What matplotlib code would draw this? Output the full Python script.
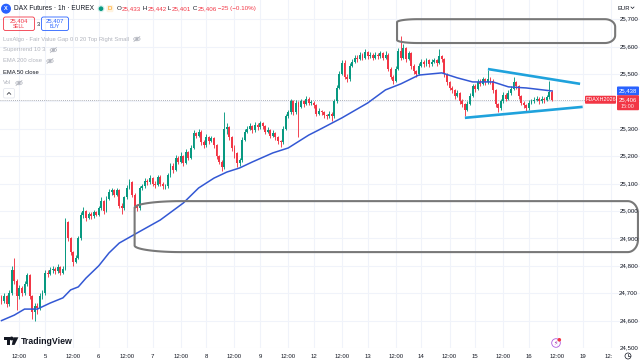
import numpy as np
import matplotlib.pyplot as plt
from matplotlib.patches import Rectangle, FancyBboxPatch, Circle, Ellipse, Polygon

plt.rcParams['font.family'] = ['Liberation Sans', 'DejaVu Sans']

# ---------------- data (1h bars) ----------------
first_open = 24685
closes = [
    24670, 24690, 24660, 24700, 24785, 24745, 24690, 24720, 24700, 24735,
    24765, 24690, 24630, 24655, 24645, 24690, 24700, 24775, 24770, 24785,
    24790, 24780, 24795, 24775, 24790, 24960, 24900, 24850, 24815, 24830,
    24900, 24985, 25000, 24975, 24990, 24980, 24995, 24985, 25010, 25035,
    25000, 25045, 25070, 25075, 25060, 25075, 25020, 25010, 25050, 25085,
    25105, 25060, 25020, 25010, 25085, 25090, 25110, 25105, 25120, 25100,
    25095, 25125, 25100, 25090, 25090, 25130, 25165, 25150, 25195, 25180,
    25200, 25175, 25215, 25195, 25230, 25285, 25275, 25290, 25250, 25240,
    25270, 25255, 25265, 25240, 25200, 25180, 25160, 25300, 25305, 25270,
    25230, 25210, 25175, 25185, 25260, 25290, 25300, 25310, 25295, 25315,
    25305, 25320, 25310, 25290, 25295, 25275, 25285, 25270, 25255, 25250,
    25300, 25345, 25360, 25400, 25360, 25395, 25380, 25400, 25390, 25410,
    25395, 25395, 25385, 25355, 25365, 25360, 25350, 25345, 25355, 25345,
    25400, 25450, 25500, 25540, 25490, 25480, 25530, 25545, 25560, 25555,
    25570, 25560, 25580, 25565, 25570, 25560, 25570, 25565, 25575, 25560,
    25570, 25520, 25490, 25475, 25520, 25585, 25560, 25595, 25555, 25575,
    25530, 25510, 25500, 25530, 25545, 25535, 25550, 25535, 25545, 25550,
    25540, 25565, 25555, 25500, 25470, 25450, 25440, 25420, 25430, 25400,
    25390, 25370, 25390, 25420, 25455, 25445, 25470, 25465, 25480, 25470,
    25480, 25475, 25440, 25390, 25375, 25400, 25425, 25410, 25430, 25445,
    25470, 25455, 25420, 25395, 25385, 25375, 25395, 25400, 25405, 25410,
    25400, 25410, 25405, 25415, 25433, 25406,
]
highs = [
    24695, 24700, 24695, 24710, 24800, 24830, 24750, 24730, 24725, 24745,
    24775, 24770, 24695, 24665, 24665, 24700, 24710, 24785, 24785, 24795,
    24800, 24795, 24805, 24800, 24800, 24975, 24965, 24905, 24855, 24840,
    24910, 24995, 25015, 25005, 24995, 24995, 25005, 25000, 25020, 25050,
    25040, 25055, 25080, 25085, 25080, 25085, 25080, 25030, 25055, 25095,
    25115, 25110, 25065, 25025, 25090, 25100, 25120, 25115, 25130, 25125,
    25110, 25130, 25130, 25105, 25100, 25140, 25175, 25175, 25205, 25200,
    25215, 25205, 25225, 25220, 25240, 25295, 25290, 25300, 25295, 25260,
    25280, 25275, 25275, 25270, 25245, 25205, 25185, 25360, 25320, 25310,
    25275, 25240, 25215, 25195, 25270, 25300, 25310, 25320, 25315, 25325,
    25320, 25330, 25325, 25315, 25305, 25300, 25295, 25290, 25275, 25260,
    25310, 25355, 25370, 25410, 25405, 25405, 25400, 25410, 25405, 25420,
    25415, 25405, 25400, 25390, 25375, 25370, 25365, 25355, 25365, 25360,
    25410, 25460, 25510, 25550, 25550, 25500, 25540, 25555, 25570, 25570,
    25580, 25575, 25590, 25585, 25580, 25575, 25580, 25575, 25585, 25580,
    25585, 25575, 25525, 25495, 25530, 25595, 25640, 25610, 25600, 25585,
    25580, 25535, 25515, 25540, 25555, 25550, 25560, 25555, 25555, 25560,
    25555, 25590, 25570, 25560, 25505, 25475, 25455, 25445, 25440, 25435,
    25410, 25395, 25400, 25430, 25465, 25465, 25480, 25480, 25490, 25485,
    25515, 25490, 25480, 25445, 25395, 25410, 25435, 25430, 25440, 25455,
    25490, 25475, 25460, 25425, 25400, 25390, 25405, 25410, 25415, 25420,
    25415, 25420, 25415, 25425, 25475, 25442,
]
lows = [
    24660, 24665, 24650, 24655, 24695, 24735, 24640, 24680, 24690, 24695,
    24725, 24680, 24605, 24600, 24625, 24640, 24680, 24695, 24760, 24765,
    24775, 24770, 24775, 24765, 24770, 24785, 24890, 24840, 24800, 24810,
    24825, 24895, 24975, 24965, 24970, 24970, 24975, 24980, 24980, 25005,
    24990, 24995, 25040, 25060, 25050, 25055, 25010, 24990, 25005, 25045,
    25080, 25050, 25010, 25000, 25005, 25075, 25085, 25095, 25100, 25090,
    25085, 25090, 25090, 25080, 25080, 25085, 25125, 25140, 25145, 25170,
    25175, 25165, 25170, 25185, 25190, 25225, 25265, 25270, 25240, 25230,
    25235, 25245, 25250, 25230, 25190, 25170, 25145, 25155, 25280, 25260,
    25220, 25195, 25160, 25165, 25180, 25255, 25285, 25295, 25285, 25290,
    25295, 25300, 25300, 25280, 25285, 25265, 25270, 25260, 25245, 25235,
    25245, 25295, 25340, 25355, 25350, 25355, 25270, 25375, 25380, 25385,
    25385, 25385, 25375, 25345, 25350, 25350, 25340, 25335, 25340, 25330,
    25340, 25395, 25445, 25495, 25480, 25470, 25475, 25525, 25540, 25545,
    25550, 25550, 25555, 25555, 25560, 25550, 25555, 25555, 25560, 25550,
    25555, 25510, 25480, 25465, 25470, 25515, 25550, 25555, 25545, 25550,
    25520, 25500, 25490, 25495, 25525, 25525, 25530, 25525, 25530, 25540,
    25530, 25535, 25545, 25490, 25460, 25440, 25430, 25410, 25415, 25390,
    25380, 25345, 25365, 25385, 25415, 25435, 25440, 25455, 25460, 25460,
    25465, 25465, 25430, 25380, 25360, 25370, 25395, 25400, 25405, 25425,
    25440, 25445, 25410, 25385, 25375, 25365, 25370, 25390, 25395, 25400,
    25390, 25395, 25395, 25400, 25410, 25401,
]
opens = [first_open] + closes[:-1]

# EMA 50 as traced on the picture (bar index, price)
ema50_idx = [0, 5, 9, 14, 19, 24, 27, 30, 33, 38, 42, 46, 53, 62, 71, 77, 83, 88,
             93, 98, 106, 112, 120, 124, 133, 143, 150, 156, 163, 172, 178, 184,
             192, 198, 205, 215]
ema50_val = [24600, 24620, 24642, 24642, 24664, 24683, 24712, 24723, 24755, 24800,
             24847, 24883, 24920, 24967, 25029, 25084, 25120, 25142, 25157, 25179,
             25212, 25230, 25277, 25296, 25340, 25394, 25442, 25464, 25496, 25504,
             25486, 25471, 25471, 25453, 25449, 25438]

day_labels = ['5', '6', '7', '8', '9', '12', '13', '14', '15', '16', '19']
day_bars = [17, 38, 59, 80, 101, 122, 143, 164, 185, 206, 227]
noon_bars = [7, 28, 49, 70, 91, 112, 133, 154, 175, 196, 217, 238]
price_levels = [24500, 24600, 24700, 24800, 24900, 25000, 25100,
                25200, 25300, 25400, 25500, 25600, 25700]

# drawings: zone = [bar_from, bar_to, price_low, price_high]
zone_top = [154.5, 239.7, 25613, 25700]
zone_bottom = [52, 248.6, 24850, 25036]
tl_upper_x, tl_upper_y = [190, 226], [25518, 25464]
tl_lower_x, tl_lower_y = [181, 227], [25340, 25380]

ohlc_last = [25433, 25442, 25401, 25406]
chg, chg_pct = -25, -0.10
sell_px, buy_px, spread = 25404, 25407, 3
ema_last = 25438
countdown = '15:00'
symbol = 'FDAXH2026'

GREEN, RED, BLUE = '#089981', '#F23645', '#2962FF'
TXT, FADE = '#131722', '#b2b5be'

fig = plt.figure(figsize=(6.4, 3.64), dpi=100)
ax = fig.add_axes([0, 16 / 364, 1, 348 / 364])
ax.set_xlim(-0.58, 249.4)
ax.set_ylim(24500, 25770)
ax.set_axis_off()

# grid
for b in day_bars + noon_bars:
    ax.axvline(b, color='#f0f3fa', lw=0.8, zorder=0)
for p in price_levels:
    ax.axhline(p, color='#f0f3fa', lw=0.8, zorder=0)

# candles
idx = np.arange(len(closes))
o, c, h, l = map(np.array, (opens, closes, highs, lows))
col = np.where(c >= o, GREEN, RED)
ax.vlines(idx, l, h, colors=col, lw=0.65, zorder=2)
ax.bar(idx, np.maximum(np.abs(c - o), 2.5), bottom=np.minimum(o, c),
       width=0.74, color=col, linewidth=0, zorder=3)

# EMA 50
ax.plot(ema50_idx, ema50_val, color='#3358d4', lw=1.1, zorder=4,
        solid_joinstyle='round')

# last price line
ax.axhline(closes[-1], color='#9598a1', lw=0.6, ls=(0, (1, 1.5)), zorder=1)


def zone(z, left_r, right_r):
    x0, x1, y0, y1 = z
    rxl, ryl = left_r
    rxr, ryr = right_r
    t = np.linspace(0, np.pi / 2, 25)
    pts = []
    pts += list(zip(x0 + rxl - rxl * np.cos(t), y1 - ryl + ryl * np.sin(t)))
    pts += list(zip(x1 - rxr + rxr * np.sin(t), y1 - ryr + ryr * np.cos(t)))
    pts += list(zip(x1 - rxr + rxr * np.cos(t), y0 + ryr - ryr * np.sin(t)))
    pts += list(zip(x0 + rxl - rxl * np.sin(t), y0 + ryl - ryl * np.cos(t)))
    ax.add_patch(Polygon(pts, closed=True, fill=False, edgecolor='#787878',
                         lw=1.5, zorder=5, clip_on=False))


zone(zone_bottom, (18, 24), (4, 45))
zone(zone_top, (8, 11), (4, 28))

ax.plot(tl_upper_x, tl_upper_y, color='#1fa2dc', lw=1.9, zorder=6,
        solid_capstyle='butt')
ax.plot(tl_lower_x, tl_lower_y, color='#1fa2dc', lw=1.9, zorder=6,
        solid_capstyle='butt')

# price scale labels (drawn inside the pane, right side); the tags hide 25,400
ytr = ax.get_yaxis_transform()
for p in price_levels:
    if abs(p - closes[-1]) < 30:
        continue
    ax.text(0.997, p, f'{p:,}', transform=ytr, ha='right', va='center',
            fontsize=4.4, color=TXT, zorder=7)

# time axis labels
xtr = ax.get_xaxis_transform()
for b, lab in zip(day_bars, day_labels):
    ax.text(b, -0.024, lab, transform=xtr, ha='center', va='center',
            fontsize=4.3, color=TXT, clip_on=False)
for b in noon_bars[:-1]:
    ax.text(b, -0.024, '12:00', transform=xtr, ha='center', va='center',
            fontsize=4.3, color=TXT, clip_on=False)
ax.text(noon_bars[-1] - 1, -0.024, '12:', transform=xtr, ha='center',
        va='center', fontsize=4.3, color=TXT, clip_on=False)

# ---------------- overlay in pixel coordinates ----------------
ui = fig.add_axes([0, 0, 1, 1], zorder=5)
ui.set_xlim(0, 640)
ui.set_ylim(364, 0)
ui.set_axis_off()
ui.patch.set_alpha(0)


def py(p):
    return 364 - ax.transData.transform((0, p))[1]


fig.canvas.draw()
rend = fig.canvas.get_renderer()


def pieces(x, y, parts, size):
    for s, colr in parts:
        t = ui.text(x, y, s, fontsize=size, color=colr, va='center', ha='left')
        x += t.get_window_extent(rend).width
    return x


def eye(x, y, colr=FADE):
    ui.add_patch(Ellipse((x, y), 6.5, 3.6, fill=False, lw=0.5, edgecolor=colr))
    ui.add_patch(Circle((x, y), 0.9, color=colr))
    ui.plot([x - 3, x + 3], [y + 2.5, y - 2.5], color=colr, lw=0.5)


# header
ui.add_patch(Circle((6, 8.7), 4.3, color=BLUE))
ui.text(6, 8.9, 'X', color='white', fontsize=4, ha='center', va='center',
        fontweight='bold')
ui.text(13.5, 8.7, 'DAX Futures · 1h · EUREX', fontsize=4.8, color=TXT,
        va='center')
ui.add_patch(Circle((101, 8.7), 2.8, color='#d7f0ec'))
ui.add_patch(Circle((101, 8.7), 1.6, color=GREEN))
ui.add_patch(FancyBboxPatch((106.5, 5.2), 7, 7, boxstyle='round,pad=0,rounding_size=1.5',
                            color='#fff3e0', lw=0))
ui.text(110, 8.9, 'D', fontsize=4.4, color='#ff9800', ha='center', va='center')
o_, h_, l_, c_ = ohlc_last
pieces(117, 8.7, [('O', TXT), (f'{o_:,}', RED), (' H', TXT), (f'{h_:,}', RED),
                  (' L', TXT), (f'{l_:,}', RED), (' C', TXT), (f'{c_:,}', RED),
                  (f' \u2212{abs(chg)} (\u2212{abs(chg_pct):.2f}%)', RED)], 4.5)

# sell / buy boxes
ui.add_patch(FancyBboxPatch((3.5, 17), 31, 13.5, boxstyle='round,pad=0,rounding_size=2',
                            fill=False, edgecolor=RED, lw=0.6))
ui.text(19, 21, f'{sell_px:,}', fontsize=4.3, color=RED, ha='center', va='center')
ui.text(19, 27, 'SELL', fontsize=3.6, color=RED, ha='center', va='center')
ui.text(37.8, 24, str(spread), fontsize=4, color=TXT, ha='center', va='center')
ui.add_patch(FancyBboxPatch((41.5, 17), 27, 13.5, boxstyle='round,pad=0,rounding_size=2',
                            fill=False, edgecolor=BLUE, lw=0.6))
ui.text(55, 21, f'{buy_px:,}', fontsize=4.3, color=BLUE, ha='center', va='center')
ui.text(55, 27, 'BUY', fontsize=3.6, color=BLUE, ha='center', va='center')

# indicator legend
legend_rows = [('LuxAlgo - Fair Value Gap 0 0 20 Top Right Small', 39, True),
               ('Supertrend 10 3', 50, True),
               ('EMA 200 close', 61, True),
               ('EMA 50 close', 72, False),
               ('Vol', 83, True)]
for txt, yy, hidden in legend_rows:
    t = ui.text(3, yy, txt, fontsize=4.2, color=FADE if hidden else TXT, va='center')
    if hidden:
        x_end = 3 + t.get_window_extent(rend).width
        eye(x_end + 8, yy)
ui.add_patch(FancyBboxPatch((3.5, 88.5), 11, 9.5, boxstyle='round,pad=0,rounding_size=1.5',
                            fill=False, edgecolor='#e0e3eb', lw=0.5))
ui.plot([7.2, 9, 10.8], [94.3, 92.5, 94.3], color=TXT, lw=0.5)

# currency selector
ui.text(617, 8, 'EUR', fontsize=4.2, color=TXT, va='center')
ui.plot([631, 632.5, 634], [7, 8.5, 7], color=TXT, lw=0.5)

# price tags on the scale
yb = py(ema_last)
ui.add_patch(FancyBboxPatch((617, yb - 4.5), 22, 9, boxstyle='round,pad=0,rounding_size=1',
                            color=BLUE, lw=0))
ui.text(628, yb, f'{ema_last:,}', fontsize=4.3, color='white', ha='center', va='center')
yr = py(closes[-1])
ui.add_patch(FancyBboxPatch((617, yr - 4.5), 22, 15, boxstyle='round,pad=0,rounding_size=1',
                            color=RED, lw=0))
ui.text(628, yr, f'{closes[-1]:,}', fontsize=4.3, color='white', ha='center', va='center')
ui.text(628, yr + 6.5, countdown, fontsize=4.0, color='#fde2e4', ha='center', va='center')
ui.add_patch(FancyBboxPatch((585, yr - 4), 31, 8, boxstyle='round,pad=0,rounding_size=1',
                            color=RED, lw=0))
ui.text(600.5, yr, symbol, fontsize=3.9, color='white', ha='center', va='center')

# TradingView logo
ui.add_patch(Rectangle((4, 337.3), 5.6, 2.3, color=TXT, lw=0))
ui.add_patch(Rectangle((7.2, 337.3), 2.4, 7.6, color=TXT, lw=0))
ui.add_patch(Circle((11.6, 338.5), 1.25, color=TXT))
ui.add_patch(Polygon([(13.4, 337.3), (18.4, 337.3), (14.6, 344.9), (11.8, 344.9)],
                     color=TXT, lw=0))
ui.text(20.5, 341, 'TradingView', fontsize=6.3, color=TXT, fontweight='bold',
        va='center')

# small icons at the bottom
ui.add_patch(Circle((556, 343), 4.3, fill=False, edgecolor='#b05ce0', lw=0.6))
ui.text(556, 343.3, '\u26a1', fontsize=4.2, color='#9c27b0', ha='center', va='center',
        family='DejaVu Sans')
ui.add_patch(Circle((559.3, 339.8), 1.1, color=RED))
ui.add_patch(Circle((628, 356), 3, fill=False, edgecolor=TXT, lw=0.5))
ui.plot([628, 628, 629.6], [354.2, 356, 356], color=TXT, lw=0.5)

fig.savefig('out.png', dpi=100, facecolor='white')
